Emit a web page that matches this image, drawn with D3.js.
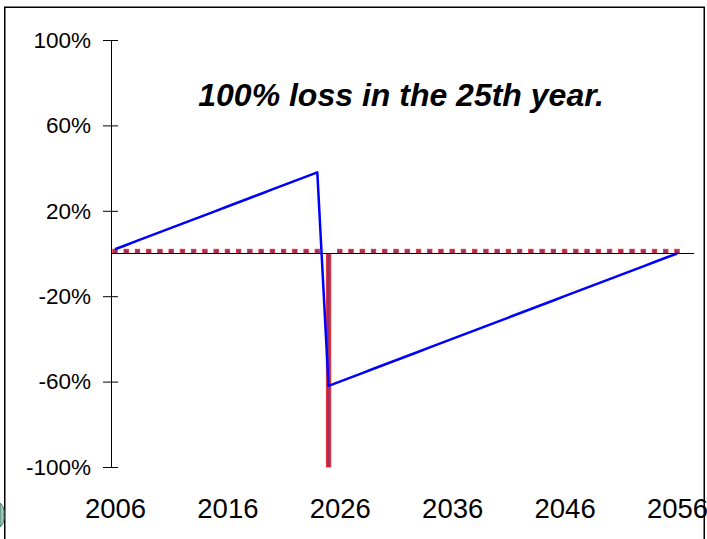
<!DOCTYPE html>
<html>
<head>
<meta charset="utf-8">
<script src="https://cdn.jsdelivr.net/npm/d3@7"></script>
<style>
  html, body { margin: 0; padding: 0; background: #fff; }
  svg { display: block; }
  text { font-family: Arial, "Liberation Sans", sans-serif; fill: #000; }
</style>
</head>
<body>
<svg id="chart" width="707" height="539"></svg>
<script>
// Years on the category axis
const years = [
  2006, 2007, 2008, 2009, 2010, 2011, 2012, 2013, 2014, 2015,
  2016, 2017, 2018, 2019, 2020, 2021, 2022, 2023, 2024, 2025,
  2026, 2027, 2028, 2029, 2030, 2031, 2032, 2033, 2034, 2035,
  2036, 2037, 2038, 2039, 2040, 2041, 2042, 2043, 2044, 2045,
  2046, 2047, 2048, 2049, 2050, 2051, 2052, 2053, 2054, 2055, 2056
];

// Yearly return (%) shown as bars
const yearlyReturn = [
  2, 2, 2, 2, 2, 2, 2, 2, 2, 2,
  2, 2, 2, 2, 2, 2, 2, 2, 2, -100,
  2, 2, 2, 2, 2, 2, 2, 2, 2, 2,
  2, 2, 2, 2, 2, 2, 2, 2, 2, 2,
  2, 2, 2, 2, 2, 2, 2, 2, 2, 2, 2
];

// Running total (%) shown as the line
const runningTotal = [
  2, 4, 6, 8, 10, 12, 14, 16, 18, 20,
  22, 24, 26, 28, 30, 32, 34, 36, 38, -62,
  -60, -58, -56, -54, -52, -50, -48, -46, -44, -42,
  -40, -38, -36, -34, -32, -30, -28, -26, -24, -22,
  -20, -18, -16, -14, -12, -10, -8, -6, -4, -2, 0
];

const yTicks = [100, 60, 20, -20, -60, -100];
const xTickYears = [2006, 2016, 2026, 2036, 2046, 2056];
const title = "100% loss in the 25th year.";

const svg = d3.select("#chart");

// Outer frame
svg.append("rect")
  .attr("x", 4.75).attr("y", 7.25)
  .attr("width", 699.5).attr("height", 560)
  .attr("fill", "none").attr("stroke", "#000").attr("stroke-width", 1.5);

// Small emblem peeking in at the lower left edge
svg.append("path")
  .attr("d", "M0,503 Q5,507 4,515 Q5,523 0,527 Z")
  .attr("fill", "#9fc2b4").attr("stroke", "#3f7a66").attr("stroke-width", 1);

const x = d3.scalePoint().domain(years).range([115, 677]);
const y = d3.scaleLinear().domain([-100, 100]).range([467, 40]);

// Bars
const barW = 4.5;
svg.append("g").selectAll("rect")
  .data(years.map((yr, i) => ({ yr, v: yearlyReturn[i] })))
  .join("rect")
  .attr("x", d => x(d.yr) - barW / 2)
  .attr("y", d => y(Math.max(0, d.v)))
  .attr("width", barW)
  .attr("height", d => Math.abs(y(d.v) - y(0)))
  .attr("fill", "#993366")
  .attr("stroke", "#ff2020")
  .attr("stroke-width", 0.8);

// Zero line
svg.append("line")
  .attr("x1", 111).attr("x2", 694)
  .attr("y1", y(0)).attr("y2", y(0))
  .attr("stroke", "#000").attr("stroke-width", 1);

// Running total line
const line = d3.line()
  .x((d, i) => x(years[i]))
  .y(d => y(d));
svg.append("path")
  .datum(runningTotal)
  .attr("d", line)
  .attr("fill", "none")
  .attr("stroke", "#0000ff")
  .attr("stroke-width", 2.5)
  .attr("stroke-linejoin", "round");

// Y axis with ticks crossing the axis line
const yAxis = d3.axisLeft(y)
  .tickValues(yTicks)
  .tickSize(8)
  .tickPadding(12)
  .tickFormat(d => d + "%");
const gy = svg.append("g")
  .attr("transform", "translate(111,0)")
  .call(yAxis);
gy.select(".domain").attr("stroke", "#000").attr("stroke-width", 1);
gy.selectAll(".tick line").attr("x1", 7).attr("x2", -8).attr("stroke", "#000");
gy.selectAll(".tick text")
  .style("font-size", "22.5px")
  .style("font-family", "Arial, 'Liberation Sans', sans-serif")
  .attr("fill", "#000");

// X axis labels
const xAxis = d3.axisBottom(x)
  .tickValues(xTickYears)
  .tickSize(0)
  .tickPadding(0);
const gx = svg.append("g")
  .attr("transform", "translate(0,497)")
  .call(xAxis);
gx.select(".domain").remove();
gx.selectAll(".tick text")
  .attr("dy", "0.75em")
  .style("font-size", "27.5px")
  .style("font-family", "Arial, 'Liberation Sans', sans-serif")
  .attr("fill", "#000");

// Title
svg.append("text")
  .attr("x", 401).attr("y", 106)
  .attr("text-anchor", "middle")
  .style("font-size", "32px")
  .style("font-weight", "bold")
  .style("font-style", "italic")
  .text(title);
</script>
</body>
</html>
